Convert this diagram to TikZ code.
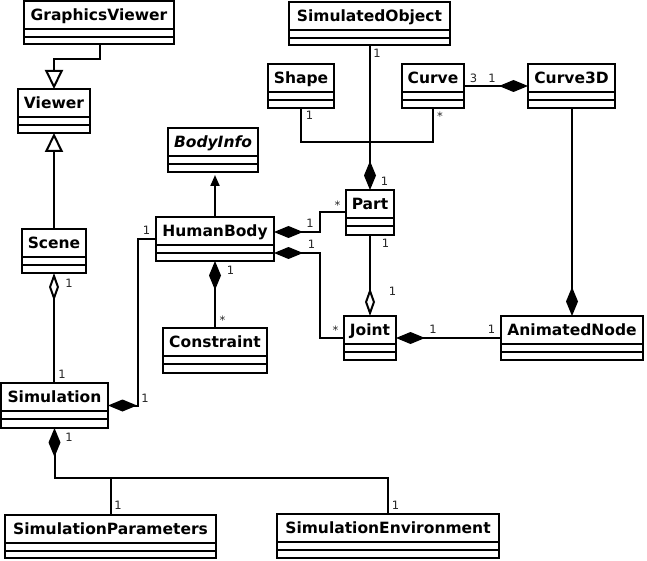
\documentclass[tikz,border=0pt]{standalone}
\usepackage{fontspec}
\setmainfont{DejaVu Sans}
\usetikzlibrary{arrows.meta}
\newcommand\umlcls[6]{%
  \node[clsbox, anchor=north west, minimum width={#4-#2}, minimum height={#5-#3}] (#1) at (#2,#3) {};
  \draw[cmpline] ([yshift=-28pt]#1.north west) -- ([yshift=-28pt]#1.north east);
  \draw[cmpline] ([yshift=-36pt]#1.north west) -- ([yshift=-36pt]#1.north east);
  \node[clstitle] (#1-t) at ([yshift=-19.5pt]#1.north) {#6};
}
\begin{document}
\begin{tikzpicture}[x=1pt,y=-1pt,
  clsbox/.style={draw, rectangle, outer sep=0pt, inner sep=0pt, line width=2pt},
  cmpline/.style={line width=2pt},
  clstitle/.style={font=\fontsize{15.5}{18}\selectfont\bfseries, inner sep=0pt, anchor=base},
  lbl/.style={font=\fontsize{11.5}{13}\selectfont, text=black!85, inner sep=0pt, anchor=base},
  conn/.style={line width=2pt},
  compstart/.style={conn, {Diamond[length=29pt,width=12pt]}-},
  compend/.style={conn, -{Diamond[length=29pt,width=12pt]}},
  aggend/.style={conn, -{Diamond[open,length=28pt,width=10pt]}},
  aggstart/.style={conn, {Diamond[open,length=28pt,width=10pt]}-},
  genend/.style={conn, -{Triangle[open,length=19pt,width=18pt]}},
  depend/.style={conn, -{Triangle[length=11pt,width=9pt]}, shorten >=3pt}
]
\path[use as bounding box] (0,0) rectangle (647,561);
\fill[white] (0,0) rectangle (647,561);

% classes
\umlcls{gv}{24}{1}{174}{44}{GraphicsViewer}
\umlcls{viewer}{18}{89}{90}{133}{Viewer}
\umlcls{scene}{22}{229}{86}{273}{Scene}
\umlcls{sim}{1}{383}{108}{428}{Simulation}
\umlcls{so}{289}{2}{450}{45}{SimulatedObject}
\umlcls{shape}{268}{64}{334}{108}{Shape}
\umlcls{curve}{402}{64}{464}{108}{Curve}
\umlcls{cthree}{528}{64}{615}{108}{Curve3D}
\umlcls{bodyinfo}{168}{128}{258}{172}{\itshape BodyInfo}
\umlcls{hb}{156}{217}{274}{261}{HumanBody}
\umlcls{part}{346}{190}{394}{234.5}{Part}
\umlcls{joint}{344}{316}{396}{360}{Joint}
\umlcls{an}{501}{316}{643}{360}{AnimatedNode}
\umlcls{constraint}{163}{328}{267}{373}{Constraint}
\umlcls{sp}{5}{515}{216}{558}{SimulationParameters}
\umlcls{se}{277}{514}{499}{558}{SimulationEnvironment}

% generalizations
\draw[genend] (gv.south -| 100,0) |- (viewer.north |- 0,59) -- (viewer.north);
\draw[genend] (viewer.south |- scene.north) -- (viewer.south);
% dependency
\draw[depend] (hb.north -| 215,0) -- (bodyinfo.south -| 215,0);

% aggregations
\draw[aggstart] (scene.south) -- (sim.north -| scene.south);
\draw[aggend] (joint.north |- part.south) -- (joint.north);

% compositions
\draw[compstart] (sim.east) -- (sim.east -| 138,0) |- (hb.west);
\draw[compstart] (hb.east |- 0,232) -- (320,232) |- (part.west);
\draw[compstart] (hb.east |- 0,253) -- (320,253) |- (joint.west);
\draw[compstart] (hb.south) -- (constraint.north -| hb.south);
\draw[compend] (part.north |- so.south) -- (part.north);
\draw[compend] (curve.east) -- (cthree.west |- curve.east);
\draw[compend] (an.north |- cthree.south) -- (an.north);
\draw[compstart] (joint.east) -- (an.west |- joint.east);
\draw[compstart] (sim.south) |- (se.north |- 0,478) -- (se.north);
\draw[conn] (sp.north) -- (sp.north |- 0,478);

% association Shape - Curve
\draw[conn] (shape.south) -- (shape.south |- 0,142) -| (curve.south);

% multiplicities
\node[lbl] (m1) at (69,287) {1};
\node[lbl] (m2) at (62,378) {1};
\node[lbl] (m3) at (145,402) {1};
\node[lbl] (m4) at (146.5,235) {1};
\node[lbl] (m5) at (377,58) {1};
\node[lbl] (m6) at (309.5,120) {1};
\node[lbl] (m7) at (440,121) {*};
\node[lbl] (m8) at (473.5,83) {3};
\node[lbl] (m9) at (492,83) {1};
\node[lbl] (m10) at (384.5,186) {1};
\node[lbl] (m11) at (337.5,210) {*};
\node[lbl] (m12) at (310,227) {1};
\node[lbl] (m13) at (311.5,248) {1};
\node[lbl] (m14) at (335.5,334) {*};
\node[lbl] (m15) at (230.5,274) {1};
\node[lbl] (m16) at (222.5,324) {*};
\node[lbl] (m17) at (385.5,247.5) {1};
\node[lbl] (m18) at (392.5,295) {1};
\node[lbl] (m19) at (433,333.5) {1};
\node[lbl] (m20) at (491.5,333.5) {1};
\node[lbl] (m21) at (69,441) {1};
\node[lbl] (m22) at (118,509.5) {1};
\node[lbl] (m23) at (395.5,509.5) {1};
\end{tikzpicture}
\end{document}
